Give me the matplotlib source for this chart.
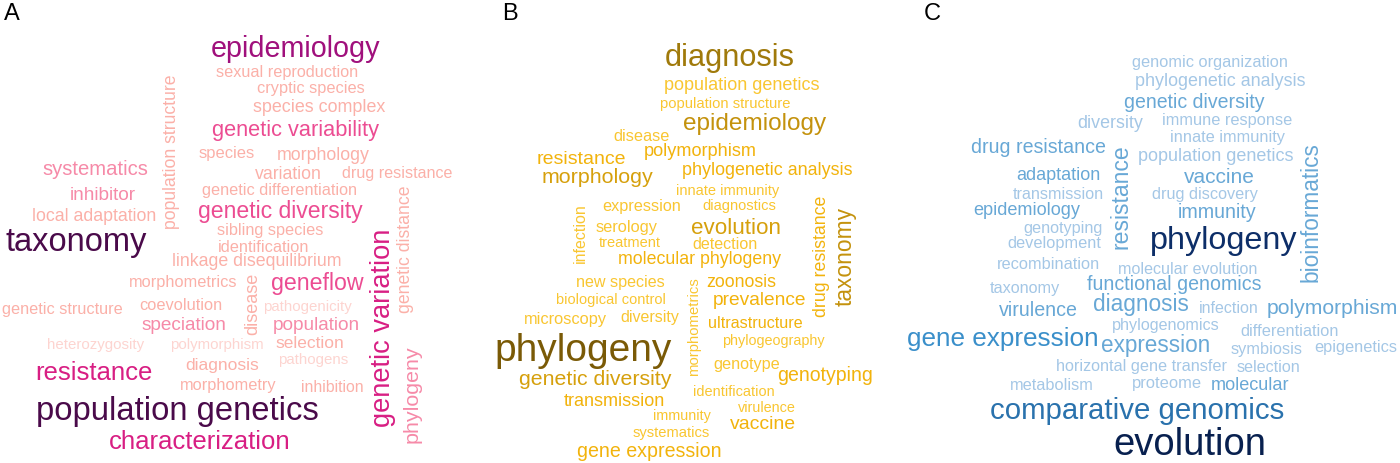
import matplotlib.pyplot as plt

plt.rcParams['font.family'] = ['Liberation Sans', 'DejaVu Sans']

# --- panel A: keywords and frequency tier (1 = rare ... 7 = most frequent)
words_a = ['epidemiology', 'sexual reproduction', 'cryptic species', 'species complex',
           'genetic variability', 'species', 'morphology', 'systematics', 'variation',
           'drug resistance', 'genetic differentiation', 'inhibitor', 'population structure',
           'local adaptation', 'genetic diversity', 'sibling species', 'taxonomy',
           'identification', 'linkage disequilibrium', 'morphometrics', 'disease', 'geneflow',
           'genetic variation', 'genetic distance', 'genetic structure', 'coevolution',
           'pathogenicity', 'speciation', 'population', 'heterozygosity', 'polymorphism',
           'selection', 'pathogens', 'phylogeny', 'resistance', 'diagnosis', 'morphometry',
           'inhibition', 'population genetics', 'characterization']
tier_a = [6, 2, 2, 2, 4, 2, 2, 3, 2, 2, 2, 3, 2, 2, 4, 2, 7, 2, 2, 2, 2, 4, 5, 2, 2, 2,
          1, 3, 3, 1, 1, 2, 1, 3, 5, 2, 2, 2, 7, 5]

# --- panel B
words_b = ['diagnosis', 'population genetics', 'population structure', 'epidemiology',
           'disease', 'polymorphism', 'resistance', 'morphology', 'phylogenetic analysis',
           'innate immunity', 'expression', 'diagnostics', 'infection', 'serology',
           'evolution', 'treatment', 'detection', 'drug resistance', 'taxonomy',
           'molecular phylogeny', 'new species', 'zoonosis', 'morphometrics',
           'biological control', 'prevalence', 'microscopy', 'diversity', 'ultrastructure',
           'phylogeny', 'phylogeography', 'genotype', 'genotyping', 'genetic diversity',
           'identification', 'transmission', 'virulence', 'immunity', 'vaccine',
           'systematics', 'gene expression']
tier_b = [6, 2, 2, 5, 2, 3, 3, 4, 3, 2, 2, 2, 2, 2, 4, 2, 2, 3, 5, 3, 2, 3, 2, 2, 3, 2,
          2, 3, 7, 2, 2, 3, 4, 2, 3, 2, 2, 3, 2, 3]

# --- panel C
words_c = ['genomic organization', 'phylogenetic analysis', 'genetic diversity', 'diversity',
           'immune response', 'innate immunity', 'drug resistance', 'resistance',
           'population genetics', 'bioinformatics', 'adaptation', 'vaccine', 'transmission',
           'drug discovery', 'epidemiology', 'immunity', 'genotyping', 'phylogeny',
           'development', 'recombination', 'molecular evolution', 'taxonomy',
           'functional genomics', 'virulence', 'diagnosis', 'infection', 'polymorphism',
           'phylogenomics', 'gene expression', 'expression', 'differentiation', 'symbiosis',
           'epigenetics', 'horizontal gene transfer', 'selection', 'metabolism', 'proteome',
           'molecular', 'comparative genomics', 'evolution']
tier_c = [3, 3, 4, 3, 3, 3, 4, 4, 3, 4, 4, 4, 3, 3, 4, 4, 3, 7, 3, 3, 3, 3, 4, 4, 4, 3,
          4, 3, 5, 4, 3, 3, 3, 3, 3, 3, 3, 4, 6, 8]

panel_labels = ['A', 'B', 'C']

palette_a = {1: '#fdd4d0', 2: '#fbb0a8', 3: '#f68aa8', 4: '#ec4c92', 5: '#d81e83',
             6: '#a0107c', 7: '#4a0a4a'}
palette_b = {2: '#f9c631', 3: '#f2b30c', 4: '#d6a00c', 5: '#c4920d', 6: '#a07a0b',
             7: '#7a5a06'}
palette_c = {3: '#a4c7e6', 4: '#68a8d6', 5: '#3a8fca', 6: '#2a72ad', 7: '#0d2e68',
             8: '#08204f'}

# word placement: centre x, centre y, text length (px), rotation
layout_a = [(295, 49, 170, 0), (287, 72, 143, 0), (311, 89, 108, 0), (319, 107, 132, 0),
            (296, 131, 168, 0), (227, 154, 56, 0), (323, 156, 93, 0), (95, 170, 106, 0),
            (288, 175, 67, 0), (397, 174, 111, 0), (279, 191, 155, 0), (103, 196, 67, 0),
            (172, 152, 155, 90), (94, 217, 125, 0), (280, 212, 166, 0), (270, 231, 106, 0),
            (76, 243, 142, 0), (264, 248, 92, 0), (257, 262, 171, 0), (183, 283, 109, 0),
            (253, 304, 62, 90), (317, 284, 93, 0), (383, 328, 200, 90), (405, 249, 128, 90),
            (62, 310, 121, 0), (181, 306, 83, 0), (307, 307, 89, 0), (184, 326, 86, 0),
            (316, 326, 88, 0), (96, 345, 97, 0), (217, 345, 94, 0), (310, 344, 69, 0),
            (313, 360, 70, 0), (412, 394, 98, 90), (94, 373, 118, 0), (222, 366, 74, 0),
            (228, 386, 97, 0), (332, 388, 63, 0), (177, 412, 283, 0), (200, 442, 183, 0)]
layout_b = [(730, 58, 130, 0), (742, 85, 155, 0), (725, 104, 130, 0), (755, 124, 144, 0),
            (642, 137, 56, 0), (700, 152, 113, 0), (581, 160, 89, 0), (597, 178, 112, 0),
            (767, 171, 171, 0), (728, 191, 103, 0), (642, 207, 79, 0), (739, 206, 73, 0),
            (580, 233, 60, 90), (627, 228, 62, 0), (736, 229, 90, 0), (630, 243, 62, 0),
            (725, 245, 66, 0), (822, 256, 122, 90), (845, 257, 99, 90), (700, 260, 164, 0),
            (620, 283, 89, 0), (741, 283, 70, 0), (694, 327, 99, 90), (611, 300, 110, 0),
            (760, 301, 94, 0), (565, 320, 83, 0), (650, 318, 59, 0), (755, 324, 95, 0),
            (583, 351, 178, 0), (773, 341, 103, 0), (747, 365, 67, 0), (825, 376, 96, 0),
            (595, 380, 153, 0), (734, 392, 81, 0), (614, 402, 101, 0), (767, 408, 58, 0),
            (682, 416, 58, 0), (763, 425, 66, 0), (671, 433, 77, 0), (649, 452, 144, 0)]
layout_c = [(1210, 63, 157, 0), (1220, 82, 171, 0), (1194, 103, 141, 0), (1110, 124, 66, 0),
            (1227, 120, 131, 0), (1227, 138, 115, 0), (1038, 148, 135, 0), (1121, 197, 105, 90),
            (1216, 157, 156, 0), (1311, 212, 140, 90), (1058, 176, 84, 0), (1219, 178, 71, 0),
            (1058, 195, 91, 0), (1205, 195, 106, 0), (1027, 211, 107, 0), (1217, 213, 79, 0),
            (1063, 229, 80, 0), (1224, 241, 148, 0), (1054, 244, 94, 0), (1049, 265, 103, 0),
            (1188, 270, 140, 0), (1025, 289, 71, 0), (1174, 285, 174, 0), (1038, 311, 79, 0),
            (1141, 305, 96, 0), (1229, 309, 60, 0), (1332, 309, 132, 0), (1166, 326, 108, 0),
            (1003, 339, 192, 0), (1156, 346, 109, 0), (1290, 332, 99, 0), (1267, 350, 72, 0),
            (1356, 348, 83, 0), (1142, 367, 172, 0), (1268, 368, 64, 0), (1052, 386, 84, 0),
            (1167, 384, 70, 0), (1250, 386, 79, 0), (1137, 411, 295, 0), (1190, 445, 154, 0)]
label_pos = [(12, 14), (510, 14), (932, 14)]

fig = plt.figure(figsize=(14, 4.64), dpi=100)
ax = fig.add_axes([0, 0, 1, 1])
ax.set_xlim(0, 1400)
ax.set_ylim(464, 0)
ax.axis('off')
renderer = fig.canvas.get_renderer()


def draw_cloud(words, tiers, layout, palette):
    for word, tier, (x, y, length, rot) in zip(words, tiers, layout):
        t = ax.text(x, y, word, fontsize=10, ha='center', va='center',
                    color=palette[tier])
        # scale the font so the word spans the measured length
        w = t.get_window_extent(renderer).width
        t.set_fontsize(10 * length / w)
        t.set_rotation(rot)
        t.set_rotation_mode('anchor')


draw_cloud(words_a, tier_a, layout_a, palette_a)
draw_cloud(words_b, tier_b, layout_b, palette_b)
draw_cloud(words_c, tier_c, layout_c, palette_c)

for lab, (x, y) in zip(panel_labels, label_pos):
    ax.text(x, y, lab, fontsize=17, ha='center', va='center', color='black')

fig.savefig('out.png', dpi=100, facecolor='white')
